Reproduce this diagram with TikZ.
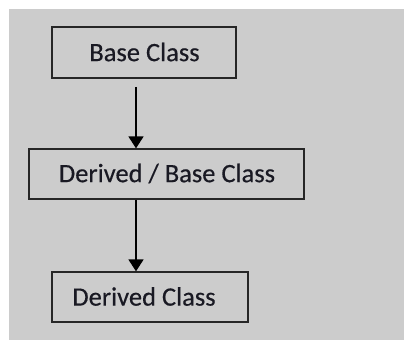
\documentclass[tikz,border=0pt]{standalone}
\usepackage{fontspec}
\setmainfont{Carlito}[FakeBold=0.4]
\usetikzlibrary{arrows.meta}
\definecolor{bggray}{RGB}{204,204,204}
\definecolor{txtc}{RGB}{25,25,35}
\begin{document}
\begin{tikzpicture}[x=1pt,y=-1pt,
  classbox/.style={draw=black!85, line width=1.3pt, fill=bggray, inner sep=0pt},
  lbl/.style={font=\fontsize{26.5}{30}\selectfont, text=txtc, anchor=center},
  conn/.style={line width=1.8pt, -{Triangle[length=12pt,width=15pt]}}]
\useasboundingbox (0,0) rectangle (404,350);
\fill[white] (0,0) rectangle (404,350);
\fill[bggray] (9,9) rectangle (404,340);
\node[classbox, minimum width=184pt, minimum height=51pt] (b1) at (144,52.5) {};
\node[lbl] (t1) at (144.5,52) {Base Class};
\node[classbox, minimum width=275pt, minimum height=50pt] (b2) at (166.5,174) {};
\node[lbl] (t2) at (167,173.5) {Derived / Base Class};
\node[classbox, minimum width=196pt, minimum height=50pt] (b3) at (150,297) {};
\node[lbl] (t3) at (144,296.5) {Derived Class};
\coordinate (s1) at (136,87);
\draw[conn] (s1) -- (b2.north -| s1);
\draw[conn] (b2.south -| s1) -- (b3.north -| s1);
\end{tikzpicture}
\end{document}
